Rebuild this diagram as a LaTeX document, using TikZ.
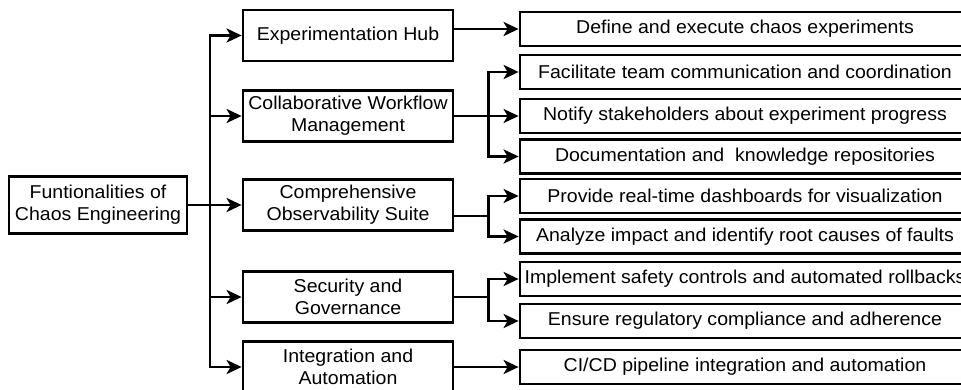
\documentclass[tikz,border=0pt]{standalone}
\usepackage{fontspec}
\setmainfont[FakeStretch=1.05]{Liberation Sans}
\usetikzlibrary{arrows.meta}

\tikzset{
  box/.style={draw, line width=2.8pt, align=center, inner xsep=2pt, inner ysep=0pt,
    font=\fontsize{18.6}{22}\selectfont},
  rootbox/.style={box, minimum width=178pt, minimum height=57pt},
  midbox/.style={box, minimum width=210pt, minimum height=51pt},
  leafbox/.style={box, minimum width=450pt, minimum height=34pt},
  link/.style={line width=2.8pt, -{Stealth[length=15pt,width=14pt,inset=4pt]}},
}

\begin{document}
\begin{tikzpicture}[x=1pt,y=-1pt]
\useasboundingbox (0,0) rectangle (961,390);
% racine
\node[rootbox] (root) at (98,205) {Funtionalities of\\Chaos Engineering};
\coordinate (split) at (210,205);
% niveau 1
\node[midbox] (hub) at (348,35.5) {Experimentation Hub};
\node[midbox] (collab) at (348,116) {Collaborative Workflow\\Management};
\node[midbox] (observ) at (348,205) {Comprehensive\\Observability Suite};
\node[midbox] (secur) at (348,297) {Security and\\Governance};
\node[midbox] (integ) at (348,367) {Integration and\\Automation};
% niveau 2
\node[leafbox] (define) at (745,29) {Define and execute chaos experiments};
\node[leafbox] (team) at (745,72) {Facilitate team communication and coordination};
\node[leafbox] (notify) at (745,116) {Notify stakeholders about experiment progress};
\node[leafbox] (docs) at (745,156.5) {Documentation and\ \ knowledge repositories};
\node[leafbox] (dash) at (745,196) {Provide real-time dashboards for visualization};
\node[leafbox] (impact) at (745,236.5) {Analyze impact and identify root causes of faults};
\node[leafbox] (safety) at (745,279) {Implement safety controls and automated rollbacks};
\node[leafbox] (comply) at (745,321) {Ensure regulatory compliance and adherence};
\node[leafbox] (cicd) at (745,367) {CI/CD pipeline integration and automation};

\draw[line width=2.8pt] (root.east) -- (split);
\foreach \m in {hub,collab,observ,secur,integ}
  \draw[link] (split) |- (\m.west);

\draw[link] (hub.east |- define) -- (define.west);
\foreach \l in {team,notify,docs}
  \draw[link] (collab.east) -- ++(34,0) |- (\l.west);
\foreach \l in {dash,impact}
  \draw[link] ([yshift=-11pt]observ.east) -- ++(34,0) |- (\l.west);
\foreach \l in {safety,comply}
  \draw[link] (secur.east) -- ++(34,0) |- (\l.west);
\draw[link] (integ.east) -- (cicd.west);
\end{tikzpicture}
\end{document}
